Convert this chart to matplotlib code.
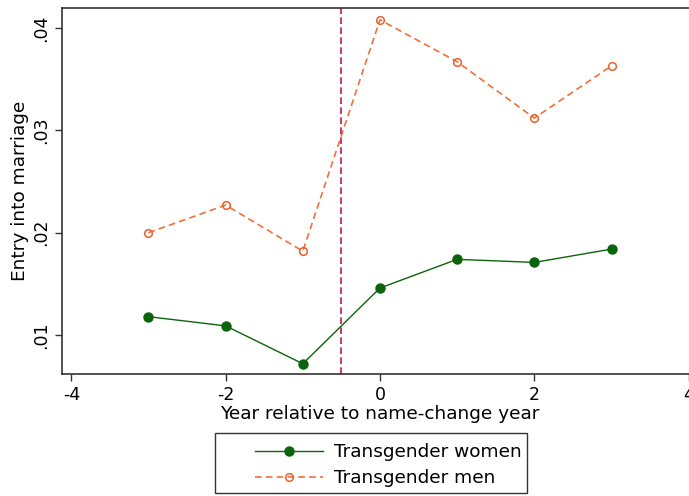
import matplotlib
matplotlib.use("Agg")
import matplotlib.pyplot as plt
from matplotlib.patches import Rectangle

years = [-3, -2, -1, 0, 1, 2, 3]
women = [0.0118, 0.0109, 0.0072, 0.0146, 0.0174, 0.0171, 0.0184]
men = [0.0200, 0.0227, 0.0182, 0.0408, 0.0367, 0.0312, 0.0363]
xticks = [-4, -2, 0, 2, 4]
yticks = [0.01, 0.02, 0.03, 0.04]
yticklabels = [".01", ".02", ".03", ".04"]

plt.rcParams['font.family'] = ['DejaVu Sans']
W, H = 689, 496
fig = plt.figure(figsize=(W / 100, H / 100), dpi=100)
ax = fig.add_axes([0.090, 0.246, 0.923, 0.738])

green = '#0b640b'
orange = '#f0703a'
ax.plot(years, women, '-', color=green, lw=1.0, marker='o', ms=6.5,
        mfc=green, mec=green, label='Transgender women')
ax.plot(years, men, '--', color=orange, lw=1.2, marker='o', ms=5.5,
        mfc='none', mec='#e8602a', mew=1.1, dashes=(4, 2.5), label='Transgender men')
ax.axvline(-0.5, color='#c0185a', lw=1.2, ls=(0, (4, 2)))

ax.set_xlim(-4.12, 4.12)
ax.set_ylim(0.0062, 0.04196)
ax.set_xticks(xticks)
ax.set_xticklabels([str(t) for t in xticks])
ax.set_yticks(yticks)
ax.set_yticklabels(yticklabels, rotation=90, va='center')
ax.tick_params(labelsize=12.5, length=5, width=1, color='#333333')
ax.set_xlabel('Year relative to name-change year', fontsize=13.3, labelpad=1)
ax.set_ylabel('Entry into marriage', fontsize=13.3, labelpad=2)
for s in ax.spines.values():
    s.set_linewidth(1.2)
    s.set_color('#333333')

leg = fig.legend(loc='upper left', bbox_to_anchor=(255 / W, 1 - 443 / H), fontsize=13.3,
                 frameon=False, borderpad=0, borderaxespad=0,
                 handlelength=3.7, handletextpad=0.6, labelspacing=0.45)
fig.patches.append(Rectangle((215 / W, 1 - 493 / H), 312 / W, 60 / H,
                             transform=fig.transFigure, fill=False,
                             edgecolor='#333333', lw=1.0))

fig.savefig('out.png', dpi=100)
